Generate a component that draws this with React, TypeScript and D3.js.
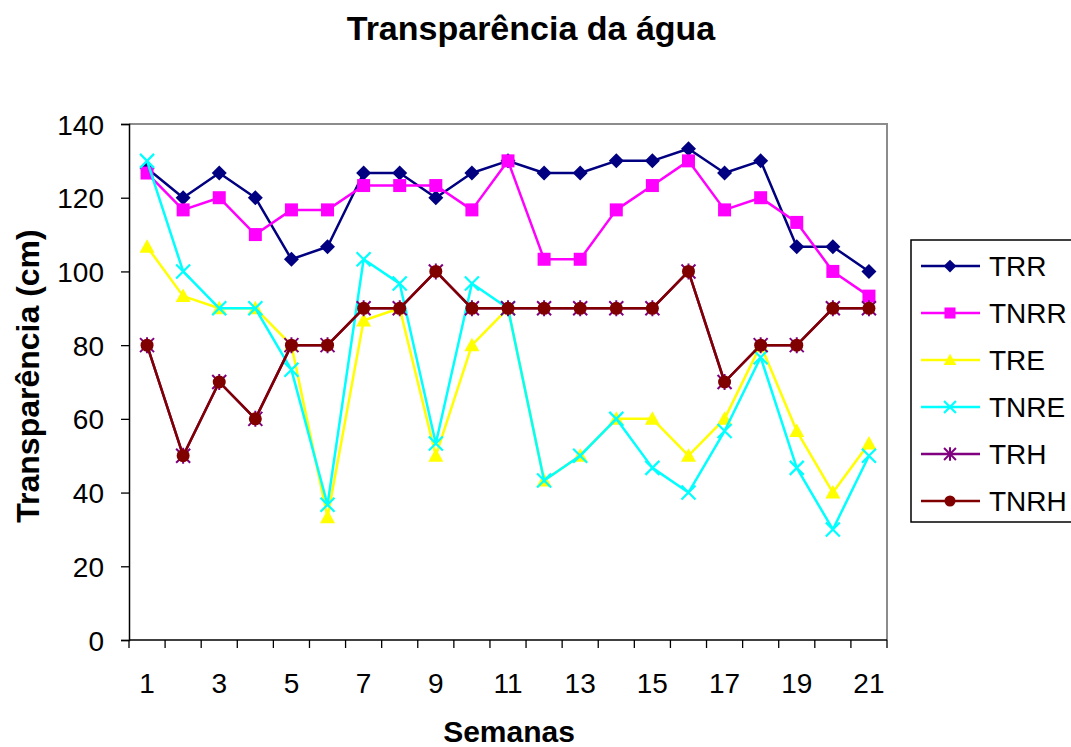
import React, { useEffect, useRef } from 'react';
import * as d3 from 'd3';

const weeks = ['1', '2', '3', '4', '5', '6', '7', '8', '9', '10', '11', '12', '13', '14', '15', '16', '17', '18', '19', '20', '21'];
const xLabels = ['1', '3', '5', '7', '9', '11', '13', '15', '17', '19', '21'];
const yTicks = [0, 20, 40, 60, 80, 100, 120, 140];

const TRR = [128, 120, 126.7, 120, 103.3, 106.7, 126.7, 126.7, 120, 126.7, 130, 126.7, 126.7, 130, 130, 133.3, 126.7, 130, 106.7, 106.7, 100];
const TNRR = [126.7, 116.7, 120, 110, 116.7, 116.7, 123.3, 123.3, 123.3, 116.7, 130, 103.3, 103.3, 116.7, 123.3, 130, 116.7, 120, 113.3, 100, 93.3];
const TRE = [106.7, 93.3, 90, 90, 80, 33.3, 86.7, 90, 50, 80, 90, 43.3, 50, 60, 60, 50, 60, 80, 56.7, 40, 53.3];
const TNRE = [130, 100, 90, 90, 73.3, 36.7, 103.3, 96.7, 53.3, 96.7, 90, 43.3, 50, 60, 46.7, 40, 56.7, 76.7, 46.7, 30, 50];
const TRH = [80, 50, 70, 60, 80, 80, 90, 90, 100, 90, 90, 90, 90, 90, 90, 100, 70, 80, 80, 90, 90];
const TNRH = [80, 50, 70, 60, 80, 80, 90, 90, 100, 90, 90, 90, 90, 90, 90, 100, 70, 80, 80, 90, 90];

const seriesNames = ['TRR', 'TNRR', 'TRE', 'TNRE', 'TRH', 'TNRH'];
const seriesValues = [TRR, TNRR, TRE, TNRE, TRH, TNRH];
const seriesColors = ['#000080', '#ff00ff', '#ffff00', '#00ffff', '#800080', '#800000'];
const seriesMarkers = ['diamond', 'square', 'triangle', 'x', 'star', 'circle'];

const font = 'Liberation Sans, Arial, sans-serif';

function drawMarker(g: any, shape: string, color: string, k: number) {
  if (shape === 'diamond') {
    g.append('path').attr('d', `M0,${-7.5 * k}L${7.5 * k},0L0,${7.5 * k}L${-7.5 * k},0Z`).attr('fill', color);
  } else if (shape === 'square') {
    g.append('rect').attr('x', -6.5 * k).attr('y', -6.5 * k).attr('width', 13 * k).attr('height', 13 * k).attr('fill', color);
  } else if (shape === 'triangle') {
    g.append('path').attr('d', `M0,${-7.5 * k}L${7.5 * k},${6 * k}L${-7.5 * k},${6 * k}Z`).attr('fill', color);
  } else if (shape === 'x') {
    g.append('path').attr('d', `M${-7 * k},${-7 * k}L${7 * k},${7 * k}M${-7 * k},${7 * k}L${7 * k},${-7 * k}`)
      .attr('stroke', color).attr('stroke-width', 2.2).attr('fill', 'none');
  } else if (shape === 'star') {
    g.append('path').attr('d', `M${-7 * k},${-7 * k}L${7 * k},${7 * k}M${-7 * k},${7 * k}L${7 * k},${-7 * k}M0,${-8 * k}L0,${8 * k}`)
      .attr('stroke', color).attr('stroke-width', 2).attr('fill', 'none');
  } else {
    g.append('circle').attr('r', 6.5 * k).attr('fill', color);
  }
}

export default function App() {
  const ref = useRef<SVGSVGElement>(null);

  useEffect(() => {
    const svg = d3.select(ref.current);
    svg.selectAll('*').remove();

    const left = 129, right = 887, top = 124, bottom = 640;

    const x = d3.scaleBand().domain(weeks).range([left, right]).padding(0);
    const y = d3.scaleLinear().domain([0, 140]).range([bottom, top]);

    svg.append('rect').attr('width', 1071).attr('height', 747).attr('fill', '#fff');

    // plot area border
    svg.append('path')
      .attr('d', `M${left},${top}H${right}V${bottom}`)
      .attr('fill', 'none').attr('stroke', '#8c8c8c').attr('stroke-width', 2);

    // y axis
    const yAxis = svg.append('g').attr('transform', `translate(${left},0)`)
      .call(d3.axisLeft(y).tickValues(yTicks).tickSize(8).tickFormat(d3.format('d')));
    yAxis.select('.domain').attr('stroke', '#000').attr('stroke-width', 1.5);
    yAxis.selectAll('.tick line').attr('stroke', '#000').attr('stroke-width', 1.3);
    yAxis.selectAll('.tick text')
      .attr('font-family', font).attr('font-size', 28).attr('fill', '#000')
      .attr('x', -25).attr('dy', '0.36em');

    // x axis
    const xAxis = svg.append('g').attr('transform', `translate(0,${bottom})`);
    xAxis.append('line').attr('x1', left).attr('x2', right).attr('stroke', '#000').attr('stroke-width', 1.5);
    xAxis.selectAll('line.tk')
      .data(weeks.concat(['end']))
      .enter().append('line')
      .attr('class', 'tk')
      .attr('x1', (d: string) => d === 'end' ? right : x(d)!)
      .attr('x2', (d: string) => d === 'end' ? right : x(d)!)
      .attr('y1', 0).attr('y2', 8)
      .attr('stroke', '#000').attr('stroke-width', 1.3);
    xAxis.selectAll('text')
      .data(xLabels)
      .enter().append('text')
      .attr('x', (d: string) => x(d)! + x.bandwidth() / 2)
      .attr('y', 53)
      .attr('text-anchor', 'middle')
      .attr('font-family', font).attr('font-size', 28)
      .text((d: string) => d);

    // series
    seriesValues.forEach((vals, i) => {
      const pts = vals.map((v, j) => [x(weeks[j])! + x.bandwidth() / 2, y(v)] as [number, number]);
      svg.append('path')
        .attr('d', d3.line()(pts))
        .attr('fill', 'none')
        .attr('stroke', seriesColors[i])
        .attr('stroke-width', 2.5)
        .attr('stroke-linejoin', 'round');
      pts.forEach(p => {
        const g = svg.append('g').attr('transform', `translate(${p[0]},${p[1]})`);
        drawMarker(g, seriesMarkers[i], seriesColors[i], 1);
      });
    });

    // titles
    svg.append('text')
      .attr('x', 531).attr('y', 40)
      .attr('text-anchor', 'middle')
      .attr('font-family', font).attr('font-size', 34).attr('font-weight', 'bold')
      .text('Transparência da água');

    svg.append('text')
      .attr('x', 509).attr('y', 742)
      .attr('text-anchor', 'middle')
      .attr('font-family', font).attr('font-size', 30).attr('font-weight', 'bold')
      .text('Semanas');

    svg.append('text')
      .attr('transform', 'translate(39,376) rotate(-90)')
      .attr('text-anchor', 'middle')
      .attr('font-family', font).attr('font-size', 32).attr('font-weight', 'bold')
      .text('Transparência (cm)');

    // legend
    const legend = svg.append('g').attr('transform', 'translate(911,240)');
    legend.append('rect')
      .attr('width', 200).attr('height', 282)
      .attr('fill', '#fff').attr('stroke', '#000').attr('stroke-width', 1.5);
    seriesNames.forEach((name, i) => {
      const row = legend.append('g').attr('transform', `translate(0,${26 + i * 47})`);
      row.append('line').attr('x1', 10).attr('x2', 69)
        .attr('stroke', seriesColors[i]).attr('stroke-width', 2.5);
      const m = row.append('g').attr('transform', 'translate(39,0)');
      drawMarker(m, seriesMarkers[i], seriesColors[i], 0.85);
      row.append('text')
        .attr('x', 78).attr('y', 10)
        .attr('font-family', font).attr('font-size', 28)
        .text(name);
    });
  }, []);

  return (
    <svg ref={ref} width={1071} height={747} style={{ position: 'absolute', left: 0, top: 0 }} />
  );
}
